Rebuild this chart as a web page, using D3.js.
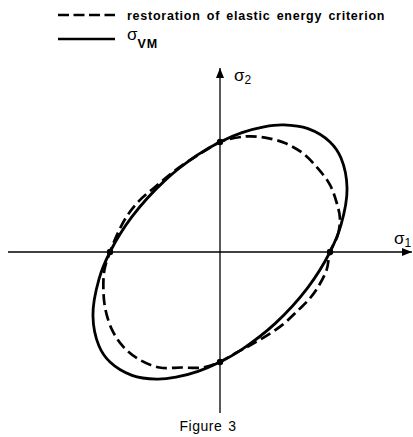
<!DOCTYPE html>
<html>
<head>
<meta charset="utf-8">
<script src="https://cdn.jsdelivr.net/npm/d3@7"></script>
<style>
  html, body { margin: 0; padding: 0; background: #fff; }
  svg { display: block; }
  text { font-family: "Liberation Sans", Arial, Helvetica, sans-serif; fill: #000; }
</style>
</head>
<body>
<script>
// Yield loci in the principal stress plane, in units of the uniaxial yield stress.
const vonMisesLocus = [
  [1, 0], [1.1, 0.246], [1.155, 0.577], [1.1, 0.854], [1.0, 1.0], [0.8, 1.121],
  [0.577, 1.155], [0.4, 1.138], [0.2, 1.085], [0, 1], [-0.2, 0.885], [-0.5, 0.651],
  [-0.8, 0.321], [-1, 0], [-1.1, -0.246], [-1.155, -0.577], [-1.1, -0.854],
  [-1.0, -1.0], [-0.8, -1.121], [-0.577, -1.155], [-0.4, -1.138], [-0.2, -1.085],
  [0, -1], [0.2, -0.885], [0.5, -0.651], [0.8, -0.321]
];

const energyLocus = [
  [1, 0], [1.07, 0.15], [1.09, 0.31], [1.06, 0.45], [1.0, 0.61], [0.89, 0.76],
  [0.75, 0.90], [0.59, 0.99], [0.41, 1.04], [0.23, 1.05], [0, 1],
  [-0.12, 0.93], [-0.25, 0.85], [-0.41, 0.74], [-0.58, 0.60], [-0.74, 0.46],
  [-0.85, 0.32], [-0.93, 0.17], [-1, 0],
  [-1.05, -0.16], [-1.06, -0.35], [-1.04, -0.53], [-0.98, -0.71], [-0.88, -0.86],
  [-0.73, -0.98], [-0.55, -1.05], [-0.35, -1.05], [-0.16, -1.05], [0, -1],
  [0.14, -0.92], [0.27, -0.85], [0.41, -0.77], [0.57, -0.66], [0.71, -0.53],
  [0.81, -0.43], [0.89, -0.32], [0.97, -0.16]
];

// Points where both loci cross the axes
const axisPoints = [[1, 0], [0, 1], [-1, 0], [0, -1]];

// Axis extents
const sigma1Extent = [-1.927, 1.745];
const sigma2Extent = [-1.464, 1.673];

const legendItems = [
  { label: "restoration of elastic energy criterion", dashed: true },
  { label: "σ", sub: "VM", dashed: false }
];
const caption = "Figure 3";

const W = 413, H = 437;
const svg = d3.select("body").append("svg").attr("width", W).attr("height", H);

const x = d3.scaleLinear().domain([-1, 1]).range([110, 330]);
const y = d3.scaleLinear().domain([-1, 1]).range([362, 142]);

// Arrowhead
const defs = svg.append("defs");
defs.append("marker")
  .attr("id", "arrow")
  .attr("viewBox", "0 0 10 8")
  .attr("refX", 10).attr("refY", 4)
  .attr("markerWidth", 10).attr("markerHeight", 8)
  .attr("markerUnits", "userSpaceOnUse")
  .attr("orient", "auto")
  .append("path").attr("d", "M0,0 L10,4 L0,8 Z").attr("fill", "#000");

// Axes
svg.append("line")
  .attr("x1", x(sigma1Extent[0])).attr("x2", x(sigma1Extent[1]))
  .attr("y1", y(0)).attr("y2", y(0))
  .attr("stroke", "#000").attr("stroke-width", 1.3)
  .attr("marker-end", "url(#arrow)");
svg.append("line")
  .attr("x1", x(0)).attr("x2", x(0))
  .attr("y1", y(sigma2Extent[0])).attr("y2", y(sigma2Extent[1]))
  .attr("stroke", "#000").attr("stroke-width", 1.3)
  .attr("marker-end", "url(#arrow)");

// Axis labels
function sigmaLabel(px, py, sub) {
  const t = svg.append("text").attr("x", px).attr("y", py).attr("font-size", 17);
  t.append("tspan").text("σ");
  t.append("tspan").attr("dy", 3).attr("font-size", 12).text(sub);
}
sigmaLabel(x(0) + 14, y(0) - 171, "2");
sigmaLabel(x(0) + 174, y(0) - 8, "1");

const line = d3.line()
  .x(d => x(d[0])).y(d => y(d[1]))
  .curve(d3.curveCatmullRomClosed.alpha(0.5));

svg.append("path")
  .attr("d", line(vonMisesLocus))
  .attr("fill", "none").attr("stroke", "#000").attr("stroke-width", 2.8);

svg.append("path")
  .attr("d", line(energyLocus))
  .attr("fill", "none").attr("stroke", "#000").attr("stroke-width", 2.7)
  .attr("stroke-dasharray", "11,5");

svg.selectAll("circle.pt").data(axisPoints).join("circle")
  .attr("class", "pt")
  .attr("cx", d => x(d[0])).attr("cy", d => y(d[1]))
  .attr("r", 3.2).attr("fill", "#000");

// Legend
const legend = svg.append("g");
legendItems.forEach((it, i) => {
  const ly = 15 + i * 24;
  legend.append("line")
    .attr("x1", 58).attr("x2", 115).attr("y1", ly).attr("y2", ly)
    .attr("stroke", "#000").attr("stroke-width", 2.7)
    .attr("stroke-dasharray", it.dashed ? "11,4.5" : null);
  const t = legend.append("text").attr("x", 127).attr("y", ly + 5);
  if (it.sub) {
    t.attr("y", ly + 1);
    t.append("tspan").attr("font-size", 17).text(it.label);
    t.append("tspan").attr("dy", 8).attr("font-size", 12.5)
      .attr("font-weight", "bold").attr("letter-spacing", 0.8).text(it.sub);
  } else {
    t.attr("font-size", 12.5).attr("font-weight", "bold")
      .attr("letter-spacing", 0.75).attr("word-spacing", 2)
      .text(it.label);
  }
});

// Caption
svg.append("text")
  .attr("x", 208).attr("y", 431)
  .attr("text-anchor", "middle")
  .attr("font-size", 14)
  .attr("letter-spacing", 0.5)
  .attr("word-spacing", 1.5)
  .text(caption);
</script>
</body>
</html>
